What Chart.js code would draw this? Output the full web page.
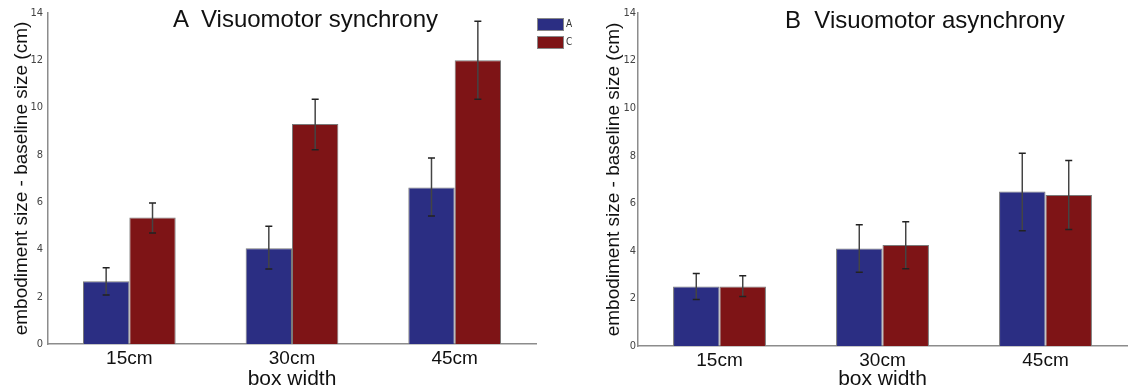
<!DOCTYPE html>
<html>
<head>
<meta charset="utf-8">
<script src="https://cdn.jsdelivr.net/npm/chart.js@4"></script>
<style>
  body { margin: 0; background: #fff; }
  #wrap { position: relative; width: 1128px; height: 392px; overflow: hidden; }
  .panel { position: absolute; top: 0; width: 564px; height: 392px; }
  .ttl { position: absolute; font-family: 'Liberation Sans', Arial, sans-serif; font-size: 24px; line-height: 24px; color: #111; white-space: pre; }
  .lg { position: absolute; width: 25px; height: 11px; border: 1px solid #888; }
  .lgt { position: absolute; font-family: 'Liberation Sans Narrow', 'DejaVu Sans Condensed', sans-serif; font-size: 10px; line-height: 12px; color: #333; }
</style>
</head>
<body>
<div id="wrap">
  <div class="panel" style="left:0"><canvas id="chartSync"></canvas></div>
  <div class="panel" style="left:564px"><canvas id="chartAsync"></canvas></div>
  <div class="ttl" style="left:173px;top:7px">A  Visuomotor synchrony</div>
  <div class="ttl" style="left:785px;top:8px">B  Visuomotor asynchrony</div>
  <div class="lg" style="left:537px;top:18px;background:#2b2e83"></div>
  <div class="lgt" style="left:566px;top:18px">A</div>
  <div class="lg" style="left:537px;top:36px;background:#7e1416"></div>
  <div class="lgt" style="left:566px;top:36px">C</div>
</div>
<script>
const categories = ['15cm', '30cm', '45cm'];

// A: visuomotor synchrony
const syncA = [2.65, 4.05, 6.62];
const syncALow = [2.07, 3.17, 5.41];
const syncAHigh = [3.22, 4.98, 7.87];
const syncC = [5.35, 9.3, 12.0];
const syncCLow = [4.7, 8.22, 10.35];
const syncCHigh = [5.96, 10.35, 13.65];

// B: visuomotor asynchrony
const asyncA = [2.5, 4.1, 6.5];
const asyncALow = [1.95, 3.1, 4.85];
const asyncAHigh = [3.05, 5.1, 8.1];
const asyncC = [2.5, 4.25, 6.35];
const asyncCLow = [2.08, 3.25, 4.9];
const asyncCHigh = [2.95, 5.22, 7.8];

const yTicks = [0, 2, 4, 6, 8, 10, 12, 14];

const blue = '#2b2e83';
const red = '#7e1416';

// draws whiskers from each dataset's errLow / errHigh
const errorBars = {
    id: 'errorBars',
    afterDatasetsDraw(chart) {
        const ctx = chart.ctx;
        const y = chart.scales.y;
        ctx.save();
        chart.data.datasets.forEach((ds, i) => {
            const meta = chart.getDatasetMeta(i);
            meta.data.forEach((bar, j) => {
                const top = y.getPixelForValue(ds.errHigh[j]);
                const bot = y.getPixelForValue(ds.errLow[j]);
                ctx.strokeStyle = '#444';
                ctx.lineWidth = 1.5;
                ctx.beginPath();
                ctx.moveTo(bar.x, top);
                ctx.lineTo(bar.x, bot);
                ctx.stroke();
                ctx.strokeStyle = '#222';
                ctx.beginPath();
                ctx.moveTo(bar.x - 3.5, top);
                ctx.lineTo(bar.x + 3.5, top);
                ctx.moveTo(bar.x - 3.5, bot);
                ctx.lineTo(bar.x + 3.5, bot);
                ctx.stroke();
            });
        });
        ctx.restore();
    }
};

function makeChart(id, a, aLow, aHigh, c, cLow, cHigh, opt) {
    const ctx = document.getElementById(id).getContext('2d');
    return new Chart(ctx, {
        type: 'bar',
        data: {
            labels: categories,
            datasets: [{
                label: 'A',
                data: a,
                errLow: aLow,
                errHigh: aHigh,
                backgroundColor: blue,
                borderColor: '#7a7a7a',
                borderWidth: 1,
                categoryPercentage: 0.57,
                barPercentage: 1.0
            }, {
                label: 'C',
                data: c,
                errLow: cLow,
                errHigh: cHigh,
                backgroundColor: red,
                borderColor: '#7a7a7a',
                borderWidth: 1,
                categoryPercentage: 0.57,
                barPercentage: 1.0
            }]
        },
        options: {
            responsive: false,
            animation: false,
            layout: {
                padding: { left: opt.padLeft, right: opt.padRight, top: 13, bottom: 0 }
            },
            plugins: {
                legend: { display: false },
                tooltip: { enabled: false }
            },
            scales: {
                x: {
                    grid: { display: false, drawTicks: false },
                    border: { display: true, color: '#8c8c8c', width: 1.5 },
                    ticks: {
                        color: '#111',
                        padding: opt.xTickPad,
                        font: { family: "'Liberation Sans', Arial, sans-serif", size: 19 }
                    },
                    title: {
                        display: true,
                        text: 'box width',
                        color: '#111',
                        padding: 0,
                        font: { family: "'Liberation Sans', Arial, sans-serif", size: 21 }
                    },
                    afterFit(scale) { scale.height = opt.xHeight; }
                },
                y: {
                    min: 0,
                    max: 14,
                    afterBuildTicks(scale) { scale.ticks = yTicks.map(v => ({ value: v })); },
                    grid: { display: false, drawTicks: false },
                    border: { display: true, color: '#8c8c8c', width: 1.5 },
                    ticks: {
                        color: '#444',
                        padding: opt.yTickPad,
                        font: { family: "'Liberation Sans Narrow', 'DejaVu Sans Condensed', sans-serif", size: 11 }
                    },
                    title: {
                        display: true,
                        text: 'embodiment size - baseline size (cm)',
                        color: '#111',
                        padding: { top: 10, bottom: 0 },
                        font: { family: "'Liberation Sans', Arial, sans-serif", size: 19 }
                    },
                    afterFit(scale) { scale.width = opt.yWidth; }
                }
            }
        },
        plugins: [errorBars]
    });
}

function sizeCanvas(id) {
    const cv = document.getElementById(id);
    cv.width = 564;
    cv.height = 392;
    cv.style.width = '564px';
    cv.style.height = '392px';
}
sizeCanvas('chartSync');
sizeCanvas('chartAsync');

makeChart('chartSync', syncA, syncALow, syncAHigh, syncC, syncCLow, syncCHigh,
    { padLeft: 0, padRight: 28, yWidth: 48, yTickPad: 5, xHeight: 48, xTickPad: 3 });
makeChart('chartAsync', asyncA, asyncALow, asyncAHigh, asyncC, asyncCLow, asyncCHigh,
    { padLeft: 28, padRight: 1, yWidth: 46, yTickPad: 2, xHeight: 46, xTickPad: 3 });
</script>
</body>
</html>
